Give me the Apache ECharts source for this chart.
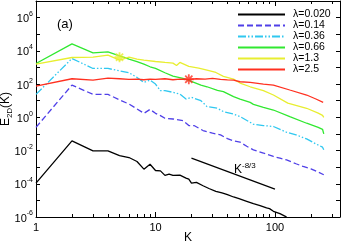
<!DOCTYPE html>
<html><head><meta charset="utf-8">
<script src="https://cdn.jsdelivr.net/npm/echarts@6/dist/echarts.min.js"></script>
<style>html,body{margin:0;padding:0;background:#fff}#c{width:342px;height:242px}</style>
</head><body><div id="c"></div>
<script>
const names = ['λ=0.020','λ=0.14','λ=0.36','λ=0.66','λ=1.3','λ=2.5'];
const colors = ['#000000','#5040e8','#30c8f0','#30e830','#e8ee30','#ff3020'];

const kBlack = [1,2,3,4,5,6,7,8,9,10,11,12,13,14,16,18,19,20,22,25,28,32,36,40,45,50,58,66,75,85,90,97,110,122,135];
const eBlack = [1.1e-4,3.8e-2,9.5e-3,9.5e-3,5.0e-3,3.8e-3,2.2e-3,7.6e-4,1.5e-3,6.3e-4,6.0e-4,3.2e-4,3.8e-4,3.2e-4,3.3e-4,2.2e-4,1.9e-4,1.1e-4,1.2e-4,7.6e-5,5.2e-5,3.5e-5,2.8e-5,2.2e-5,1.6e-5,1.26e-5,8.7e-6,6.3e-6,4.8e-6,3.5e-6,3.2e-6,2.2e-6,1.6e-6,1.1e-6,6.3e-7];

const kBlue = [1,2,3,4,5,6,7,8,9,10,11,12,14,17,19,21,25,30,35,40,45,51,58,66,80,97,110,125,150,172,200,230,256];
const eBlue = [0.25,87,24,24,11.2,6.3,3.2,1.74,3.0,1.74,1.26,0.87,0.79,0.63,0.32,0.32,0.16,0.11,0.087,0.052,0.038,0.032,0.018,0.011,7.1e-3,4.4e-3,3.5e-3,2.75e-3,1.6e-3,1.1e-3,7.9e-4,5.0e-4,3.5e-4];

const kCyan = [1,2,3,4,5,6,7,8,9,10,11,12,14,16,18,20,24,27,33,37,45,51,62,66,80,97,125,150,184,220,250,256];
const eCyan = [24,3470,870,870,630,479,251,126,174,100,40,40,32,25,12.6,15.8,10,4.4,3.5,2.2,1.58,1.1,0.5,0.38,0.32,0.28,0.126,0.089,0.05,0.025,0.016,0.011];

const kGreen = [1,2,3,4,5,6,7,8,9,10,12,14,17,19,24,27,33,37,45,51,62,66,80,97,133,184,230,250,256];
const eGreen = [1740,26300,7600,8700,5000,3160,2240,1580,1100,890,479,302,219,166,87,69,42,35,17.4,12.6,7.9,6.0,4.0,2.75,1.1,0.44,0.25,0.19,0.1];

const kYellow = [1,2,3,4,5,6,7,8,10,12,14,15,16,19,23,27,32,37,45,51,62,80,97,128,184,230,250,256];
const eYellow = [1580,3980,4170,5500,2750,4170,3160,2750,2290,2000,1820,1320,2000,1150,910,690,500,288,200,115,69,40,22,7.1,3.5,1.78,1.32,1.0];

const kRed = [1,2,3,4,5,6,7,8,9,10,12,14,16,19,22,26,30,35,40,45,51,62,80,97,133,184,220,253];
const eRed = [76,209,174,229,209,190,200,182,200,190,209,182,200,190,209,200,219,190,178,174,138,126,100,87,44,22,12.6,7.9];

const kSlope = [20,100];
const eSlope = [3.5e-3,4.8e-5];

const starK = [5,19];
const starE = [4170,195];

const xMajor = [1,10,100];
const xMinor = [2,3,4,5,6,7,8,9,20,30,40,50,60,70,80,90,200,300];
const yTicks = [1e-6,1e-5,1e-4,1e-3,1e-2,1e-1,1,10,100,1e3,1e4,1e5,1e6];
const yLabels = [1e-6,1e-4,1e-2,1,100,1e4,1e6];

const Ks = [kBlack,kBlue,kCyan,kGreen,kYellow,kRed];
const Es = [eBlack,eBlue,eCyan,eGreen,eYellow,eRed];
const dashes = ['solid',[6,3],[8,2,1.5,2,1.5,2],'solid','solid','solid'];

const FONT = 'Liberation Sans, Arial, sans-serif';
const XMIN = 1, XMAX = 350, YMIN = 1e-6, YMAX = 1e7;

function xAx(pos, vals, len, labels, line) {
  return {
    type: 'log', logBase: 10, min: XMIN, max: XMAX, position: pos,
    axisLine: {show: line, lineStyle: {color: '#000', width: 1}},
    axisTick: {show: true, inside: true, length: len, customValues: vals, lineStyle: {color: '#000', width: 1}},
    axisLabel: labels ? {show: true, customValues: labels, color: '#000', fontSize: 11, fontFamily: FONT, margin: 5, formatter: v => String(v)} : {show: false},
    splitLine: {show: false}, minorTick: {show: false}
  };
}
function yAx(pos, labels) {
  return {
    type: 'log', logBase: 10, min: YMIN, max: YMAX, position: pos,
    axisLine: {show: true, lineStyle: {color: '#000', width: 1}},
    axisTick: {show: true, inside: true, length: 4, customValues: yTicks, lineStyle: {color: '#000', width: 1}},
    axisLabel: labels ? {
      show: true, customValues: yLabels, margin: 3, fontFamily: FONT, color: '#000',
      formatter: v => '{b|10}{s|' + Math.round(Math.log10(v)) + '}',
      rich: {
        b: {fontSize: 11, fontFamily: FONT, color: '#000', lineHeight: 14, verticalAlign: 'bottom'},
        s: {fontSize: 7, fontFamily: FONT, color: '#000', lineHeight: 9, verticalAlign: 'top'}
      }
    } : {show: false},
    splitLine: {show: false}, minorTick: {show: false}
  };
}

const xAxes = [xAx('bottom', xMajor, 5, xMajor, true), xAx('bottom', xMinor, 3, null, false), xAx('top', xMajor, 5, null, true), xAx('top', xMinor, 3, null, false)];
xAxes[0].name = 'K';
xAxes[0].nameLocation = 'middle';
xAxes[0].nameGap = 15;
xAxes[0].nameMoveOverlap = false;
xAxes[0].nameTextStyle = {fontSize: 12, fontFamily: FONT, color: '#000'};

const yAxes = [yAx('left', true), yAx('right', false)];
yAxes[0].name = '{e|E}{d|2D}{e|(K)}';
yAxes[0].nameLocation = 'middle';
yAxes[0].nameGap = 22;
yAxes[0].nameMoveOverlap = false;
yAxes[0].nameRotate = 90;
yAxes[0].nameTextStyle = {
  fontFamily: FONT, color: '#000',
  rich: {
    e: {fontSize: 12, fontFamily: FONT, color: '#000', lineHeight: 14, verticalAlign: 'top'},
    d: {fontSize: 8, fontFamily: FONT, color: '#000', lineHeight: 14, verticalAlign: 'bottom', padding: [4,0,0,0]}
  }
};

const series = names.map((n, i) => ({
  name: n, type: 'line', xAxisIndex: 0, yAxisIndex: 0,
  data: Ks[i].map((k, j) => [k, Es[i][j]]),
  showSymbol: false, symbol: 'none', smooth: false, clip: true,
  lineStyle: {color: colors[i], width: 1.3, type: dashes[i]},
  itemStyle: {color: colors[i]},
  z: 2 + i
}));

series.push({
  name: 'slope', type: 'line', data: kSlope.map((k, j) => [k, eSlope[j]]),
  showSymbol: false, symbol: 'none', lineStyle: {color: '#000', width: 1.2},
  markPoint: {
    symbol: 'circle', symbolSize: 0,
    data: [{coord: [56, 8.5e-4]}],
    label: {
      show: true, position: 'inside', formatter: '{k|K}{s|-8/3}',
      rich: {
        k: {fontSize: 12, fontFamily: FONT, color: '#000', lineHeight: 14, verticalAlign: 'bottom'},
        s: {fontSize: 8, fontFamily: FONT, color: '#000', lineHeight: 9, verticalAlign: 'top'}
      }
    }
  }
});

const asterisk = 'path://M0,-5L0,5M-5,0L5,0M-3.6,-3.6L3.6,3.6M-3.6,3.6L3.6,-3.6';
series.push({
  name: 'stars', type: 'scatter', symbol: asterisk, symbolSize: 10,
  data: starK.map((k, j) => ({value: [k, starE[j]], itemStyle: {color: 'none', borderColor: [colors[4], colors[5]][j], borderWidth: 1.8}})),
  z: 10
});

const chart = echarts.init(document.getElementById('c'), null, {renderer: 'canvas'});
chart.setOption({
  animation: false,
  backgroundColor: '#fff',
  title: {text: '(a)', left: 57, top: 18, padding: 0, textStyle: {fontSize: 13, fontWeight: 'normal', fontFamily: FONT, color: '#000'}},
  grid: {left: 36, right: 2, top: 1, bottom: 25, containLabel: false, outerBoundsMode: 'none'},
  legend: {
    data: names, orient: 'vertical', left: 232, top: 4,
    itemWidth: 47, itemHeight: 8.4, itemGap: 0,
    itemStyle: {opacity: 0},
    textStyle: {fontSize: 10.5, fontFamily: FONT, color: '#000', lineHeight: 8.4, padding: [0,0,0,3]},
    inactiveColor: '#ccc'
  },
  xAxis: xAxes,
  yAxis: yAxes,
  series: series
});
</script>
</body></html>
